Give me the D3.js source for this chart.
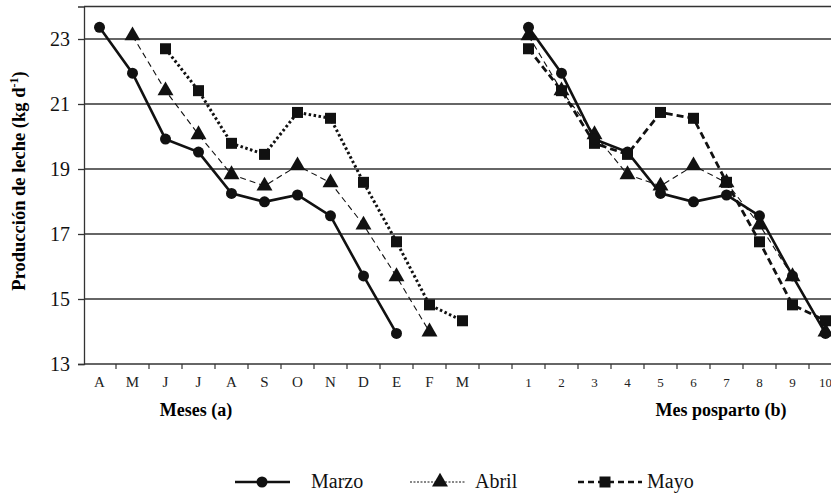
<!DOCTYPE html>
<html><head><meta charset="utf-8">
<script src="https://cdn.jsdelivr.net/npm/d3@7"></script>
<style>body{margin:0;background:#fff}svg{display:block}
svg text{font-family:"Liberation Serif","Times New Roman","DejaVu Serif",serif;}</style>
</head><body><svg id="c" width="831" height="493"></svg>
<script>
const monthLabels = ["A","M","J","J","A","S","O","N","D","E","F","M"];
const postLabels = ["1","2","3","4","5","6","7","8","9","10"];
const yTicks = [13,15,17,19,21,23];
const seriesNames = ["Marzo","Abril","Mayo"];
const marzo = [23.36,21.95,19.92,19.52,18.25,17.99,18.2,17.56,15.71,13.94];
const abril = [23.1,21.41,20.06,18.83,18.48,19.1,18.58,17.28,15.69,13.99];
const mayo  = [22.7,21.41,19.79,19.45,20.74,20.56,18.59,16.76,14.82,14.33];
const startMonth = [0,1,2];

const svg = d3.select("#c");
const cats = monthLabels.map((d,i)=>"m"+i).concat(["gap"]).concat(postLabels.map(d=>"p"+d));
const x = d3.scaleBand().domain(cats).range([83,842]);
const y = d3.scaleLinear().domain([13,24]).range([364,6.5]);
const left = 84, right = 831;

// grid
svg.selectAll(".grid").data(yTicks.slice(1).concat([24])).enter().append("line")
  .attr("x1",left).attr("x2",right).attr("y1",d=>y(d)).attr("y2",d=>y(d))
  .attr("stroke","#333").attr("stroke-width",1.3);
// y axis
const ya = svg.append("g").attr("transform",`translate(${left},0)`)
  .call(d3.axisLeft(y).tickValues(yTicks).tickSize(6).tickPadding(8).tickFormat(d3.format("d")));
ya.attr("font-family",null);
ya.select(".domain").attr("stroke","#333").attr("stroke-width",1.3);
ya.selectAll(".tick line").attr("stroke","#333").attr("stroke-width",1.3);
ya.selectAll("text").attr("font-size",20).attr("fill","#111");
// x axis
const xa = svg.append("g").attr("transform",`translate(0,${y(13)})`);
xa.append("line").attr("x1",left).attr("x2",right).attr("stroke","#333").attr("stroke-width",1.3);
xa.selectAll(".t").data(cats.slice(1).concat(["end"])).enter().append("line")
  .attr("x1",(d,i)=>83+ (i+1)*x.bandwidth()).attr("x2",(d,i)=>83+(i+1)*x.bandwidth())
  .attr("y1",0).attr("y2",5).attr("stroke","#333").attr("stroke-width",1.2);
const labs = monthLabels.map((d,i)=>({k:"m"+i,t:d})).concat(postLabels.map(d=>({k:"p"+d,t:d})));
xa.selectAll(".l").data(labs).enter().append("text")
  .attr("x",d=>x(d.k)+x.bandwidth()/2).attr("y",23)
  .attr("text-anchor","middle")
  .attr("font-size",d=>/\d/.test(d.t)?13:15).attr("fill","#222").text(d=>d.t);

// axis titles
svg.append("text").attr("x",196).attr("y",416).attr("text-anchor","middle")
  .attr("font-weight","bold").attr("font-size",18).text("Meses (a)");
svg.append("text").attr("x",721).attr("y",416).attr("text-anchor","middle")
  .attr("font-weight","bold").attr("font-size",18).text("Mes posparto (b)");
const yt = svg.append("text").attr("transform","translate(25,181) rotate(-90)").attr("text-anchor","middle")
  .attr("font-weight","bold").attr("font-size",18.5);
yt.append("tspan").text("Producción de leche (kg d");
yt.append("tspan").attr("font-size",12).attr("dy",-7).text("-1");
yt.append("tspan").attr("dy",7).text(")");

const data = [marzo,abril,mayo];
const styleLeft = [
  {w:2.6,dash:null},
  {w:1.1,dash:"6,4"},
  {w:3,dash:"2.5,2.5"}
];
const styleRight = [
  {w:2.6,dash:null},
  {w:1.1,dash:"6,4"},
  {w:2.8,dash:"7,4"}
];
const line = d3.line().x(d=>d.x).y(d=>d.y);
function marker(g, type, cx, cy){
  if(type===0) g.append("circle").attr("cx",cx).attr("cy",cy).attr("r",5.5).attr("fill","#111");
  else if(type===1) g.append("path").attr("d",d3.symbol(d3.symbolTriangle,110)()).attr("transform",`translate(${cx},${cy})`).attr("fill","#111");
  else g.append("rect").attr("x",cx-5.5).attr("y",cy-5.5).attr("width",11).attr("height",11).attr("fill","#111");
}
const gl = svg.append("g");
[2,1,0].forEach(s=>{
  const pts = data[s].map((v,i)=>({x:x("m"+(startMonth[s]+i))+x.bandwidth()/2, y:y(v)}));
  gl.append("path").attr("d",line(pts)).attr("fill","none").attr("stroke","#111")
    .attr("stroke-width",styleLeft[s].w).attr("stroke-dasharray",styleLeft[s].dash);
  pts.forEach(p=>marker(gl,s,p.x,p.y));
});
const gr = svg.append("g");
[2,1,0].forEach(s=>{
  const pts = data[s].map((v,i)=>({x:x("p"+postLabels[i])+x.bandwidth()/2, y:y(v)}));
  gr.append("path").attr("d",line(pts)).attr("fill","none").attr("stroke","#111")
    .attr("stroke-width",styleRight[s].w).attr("stroke-dasharray",styleRight[s].dash);
  pts.forEach(p=>marker(gr,s,p.x,p.y));
});

// legend
const legend = [
  {x1:235,x2:290,mx:262,tx:311,w:2.6,dash:null},
  {x1:410,x2:466,mx:440,tx:475,w:1,dash:"2,1.5"},
  {x1:578,x2:642,mx:605,tx:647,w:2.6,dash:"6,4"}
];
const lg = svg.append("g");
legend.forEach((l,i)=>{
  lg.append("line").attr("x1",l.x1).attr("x2",l.x2).attr("y1",482).attr("y2",482)
    .attr("stroke","#111").attr("stroke-width",l.w).attr("stroke-dasharray",l.dash);
  marker(lg,i,l.mx,482);
  lg.append("text").attr("x",l.tx).attr("y",488).attr("font-size",20)
    .attr("fill","#111").text(seriesNames[i]);
});
</script></body></html>
